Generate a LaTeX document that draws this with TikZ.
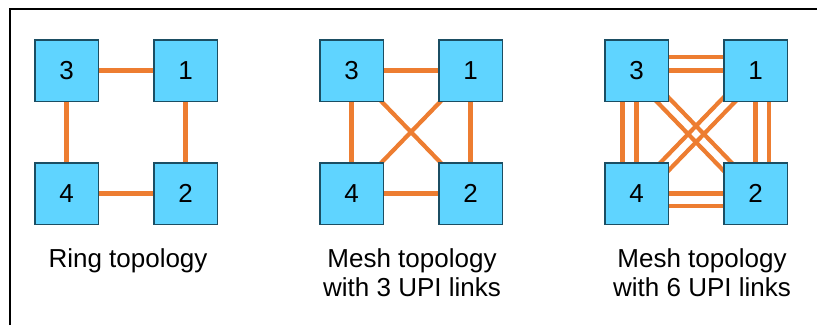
\documentclass[tikz,border=0pt]{standalone}
\usepackage{fontspec}
\setmainfont{Liberation Sans}
\usetikzlibrary{backgrounds}
\definecolor{boxfill}{HTML}{5FD4FF}
\definecolor{boxline}{HTML}{1B4E63}
\definecolor{linkc}{HTML}{ED7D31}
\begin{document}
\begin{tikzpicture}[x=1pt,y=-1pt,
  cpu/.style={draw=boxline,line width=1.5pt,fill=boxfill,minimum width=63.5pt,minimum height=61.5pt,inner sep=0pt,font=\fontsize{26}{26}\selectfont},
  lnk/.style={draw=linkc,line width=4.2pt},
  captxt/.style={font=\fontsize{26}{29}\selectfont,align=center,anchor=base},
  frame/.style={line width=2pt}]
\useasboundingbox (0,0) rectangle (817,325);
\coordinate (fa) at (10,325);
\coordinate (fb) at (10,9);
\coordinate (fc) at (817,9);
\draw[frame] (fa) -- (fb) -- (fc);

% Ring
\node[cpu] (r3) at (66.5,70.5) {3};
\node[cpu] (r1) at (185.5,70.5) {1};
\node[cpu] (r4) at (66.5,193.5) {4};
\node[cpu] (r2) at (185.5,193.5) {2};
% Mesh 3
\node[cpu] (m3) at (351.5,70.5) {3};
\node[cpu] (m1) at (470.5,70.5) {1};
\node[cpu] (m4) at (351.5,193.5) {4};
\node[cpu] (m2) at (470.5,193.5) {2};
% Mesh 6
\node[cpu] (s3) at (636.5,70.5) {3};
\node[cpu] (s1) at (755.5,70.5) {1};
\node[cpu] (s4) at (636.5,193.5) {4};
\node[cpu] (s2) at (755.5,193.5) {2};

\begin{scope}[on background layer]
  % ring links
  \draw[lnk] (r3.center) -- (r1.center);
  \draw[lnk] (r1.center) -- (r2.center);
  \draw[lnk] (r2.center) -- (r4.center);
  \draw[lnk] (r4.center) -- (r3.center);
  % mesh 3 links
  \draw[lnk] (m3.center) -- (m1.center);
  \draw[lnk] (m1.center) -- (m2.center);
  \draw[lnk] (m2.center) -- (m4.center);
  \draw[lnk] (m4.center) -- (m3.center);
  \draw[lnk] (m3.center) -- (m2.center);
  \draw[lnk] (m1.center) -- (m4.center);
  % mesh 6 links
  \draw[lnk] (s3.center) -- (s1.center);
  \draw[lnk] ([yshift=13.5pt]s3.center) -- ([yshift=13.5pt]s1.center);
  \draw[lnk] (s4.center) -- (s2.center);
  \draw[lnk] ([yshift=-12.5pt]s4.center) -- ([yshift=-12.5pt]s2.center);
  \draw[lnk] (s3.center) -- (s4.center);
  \draw[lnk] ([xshift=-14pt]s3.center) -- ([xshift=-14pt]s4.center);
  \draw[lnk] (s1.center) -- (s2.center);
  \draw[lnk] ([xshift=13.5pt]s1.center) -- ([xshift=13.5pt]s2.center);
  \draw[lnk] ([xshift=-5pt,yshift=-5pt]s3.center) -- ([xshift=-5pt,yshift=-5pt]s2.center);
  \draw[lnk] ([xshift=3pt,yshift=3pt]s3.center) -- ([xshift=3pt,yshift=3pt]s2.center);
  \draw[lnk] ([xshift=5pt,yshift=-5pt]s1.center) -- ([xshift=5pt,yshift=-5pt]s4.center);
  \draw[lnk] ([xshift=-3pt,yshift=3pt]s1.center) -- ([xshift=-3pt,yshift=3pt]s4.center);
\end{scope}

\node[captxt] (lr) at (128,267) {Ring topology};
\node[captxt] (lm) at (412,296) {Mesh topology\\with 3 UPI links};
\node[captxt] (ls) at (702,296) {Mesh topology\\with 6 UPI links};
\end{tikzpicture}
\end{document}
